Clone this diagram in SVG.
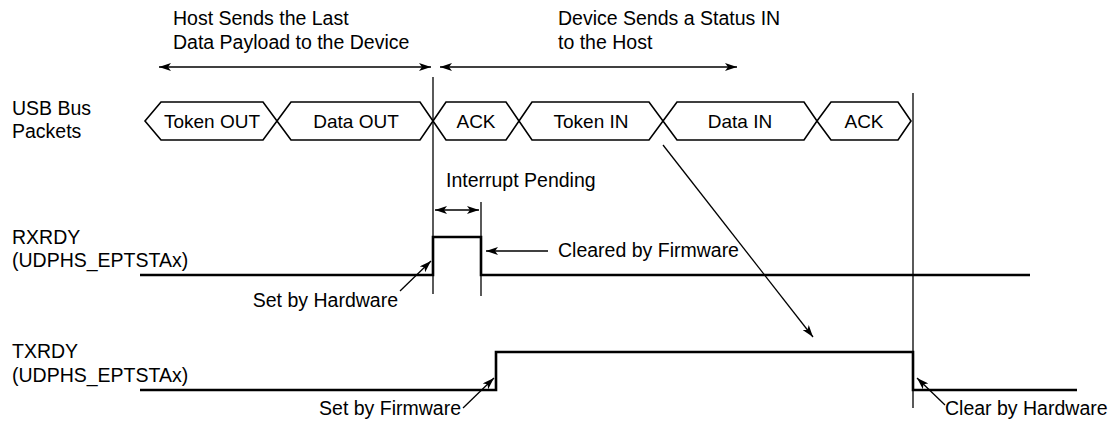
<svg xmlns="http://www.w3.org/2000/svg" width="1116" height="423" viewBox="0 0 1116 423">
<defs>
<marker id="ah" viewBox="0 0 12 8" refX="12" refY="4" markerWidth="12" markerHeight="8" markerUnits="userSpaceOnUse" orient="auto-start-reverse">
<path d="M0,0 L12,4 L0,8 L3,4 Z" fill="#000"/>
</marker>
</defs>
<style>
text{font-family:"Liberation Sans",Arial,sans-serif;font-size:19.5px;fill:#000}
.pk{font-size:19px;text-anchor:middle}
.pkt{fill:none;stroke:#000;stroke-width:1.6;stroke-linejoin:miter}
.sig{fill:none;stroke:#000;stroke-width:2.6}
.thin{fill:none;stroke:#000;stroke-width:1.3}
.arr{fill:none;stroke:#000;stroke-width:1.3;marker-end:url(#ah)}
.darr{fill:none;stroke:#000;stroke-width:1.3;marker-start:url(#ah);marker-end:url(#ah)}
</style>
<rect width="1116" height="423" fill="#fff"/>

<g id="labels">
<text x="173" y="25">Host Sends the Last</text>
<text x="173" y="49">Data Payload to the Device</text>
<text x="558" y="25">Device Sends a Status IN</text>
<text x="558" y="49">to the Host</text>
<text x="12" y="115">USB Bus</text>
<text x="12" y="138">Packets</text>
<text x="12" y="244">RXRDY</text>
<text x="12" y="267">(UDPHS_EPTSTAx)</text>
<text x="12" y="358">TXRDY</text>
<text x="12" y="382">(UDPHS_EPTSTAx)</text>
<text x="446" y="187">Interrupt Pending</text>
<text x="558" y="257">Cleared by Firmware</text>
<text x="398" y="307" text-anchor="end">Set by Hardware</text>
<text x="461" y="415" text-anchor="end">Set by Firmware</text>
<text x="945" y="415">Clear by Hardware</text>
</g>

<g id="packet-token-out">
<path class="pkt" d="M145,121 L161,102 L263,102 L277,121 L263,140 L161,140 Z"/>
<text class="pk" x="212" y="128">Token OUT</text>
</g>
<g id="packet-data-out">
<path class="pkt" d="M277,121 L291,102 L420,102 L433,121 L420,140 L291,140 Z"/>
<text class="pk" x="356" y="128">Data OUT</text>
</g>
<g id="packet-ack-1">
<path class="pkt" d="M433,121 L446,102 L506,102 L519,121 L506,140 L446,140 Z"/>
<text class="pk" x="476" y="128">ACK</text>
</g>
<g id="packet-token-in">
<path class="pkt" d="M519,121 L532,102 L649,102 L663,121 L649,140 L532,140 Z"/>
<text class="pk" x="591" y="128">Token IN</text>
</g>
<g id="packet-data-in">
<path class="pkt" d="M663,121 L677,102 L804,102 L817,121 L804,140 L677,140 Z"/>
<text class="pk" x="740" y="128">Data IN</text>
</g>
<g id="packet-ack-2">
<path class="pkt" d="M817,121 L831,102 L898,102 L911,121 L898,140 L831,140 Z"/>
<text class="pk" x="864" y="128">ACK</text>
</g>

<g id="signal-rxrdy">
<path class="sig" d="M140,275 H433 V237 H481 V275 H1030"/>
</g>
<g id="signal-txrdy">
<path class="sig" d="M140,390 H496 V352 H913 V390 H1077"/>
</g>

<g id="connectors">
<line class="thin" x1="433" y1="77" x2="433" y2="294"/>
<line class="thin" x1="481" y1="202" x2="481" y2="296"/>
<line class="thin" x1="913" y1="93" x2="913" y2="408"/>
<line class="darr" x1="159" y1="67" x2="431" y2="67"/>
<line class="darr" x1="440" y1="67" x2="737" y2="67"/>
<line class="darr" x1="435" y1="210" x2="479" y2="210"/>
<line class="arr" x1="548" y1="251" x2="486" y2="251"/>
<line class="arr" x1="400" y1="291" x2="431" y2="261"/>
<line class="arr" x1="463" y1="408" x2="494" y2="378"/>
<line class="arr" x1="945" y1="405" x2="917" y2="378"/>
<line class="arr" x1="663" y1="145" x2="813" y2="337"/>
</g>
</svg>
